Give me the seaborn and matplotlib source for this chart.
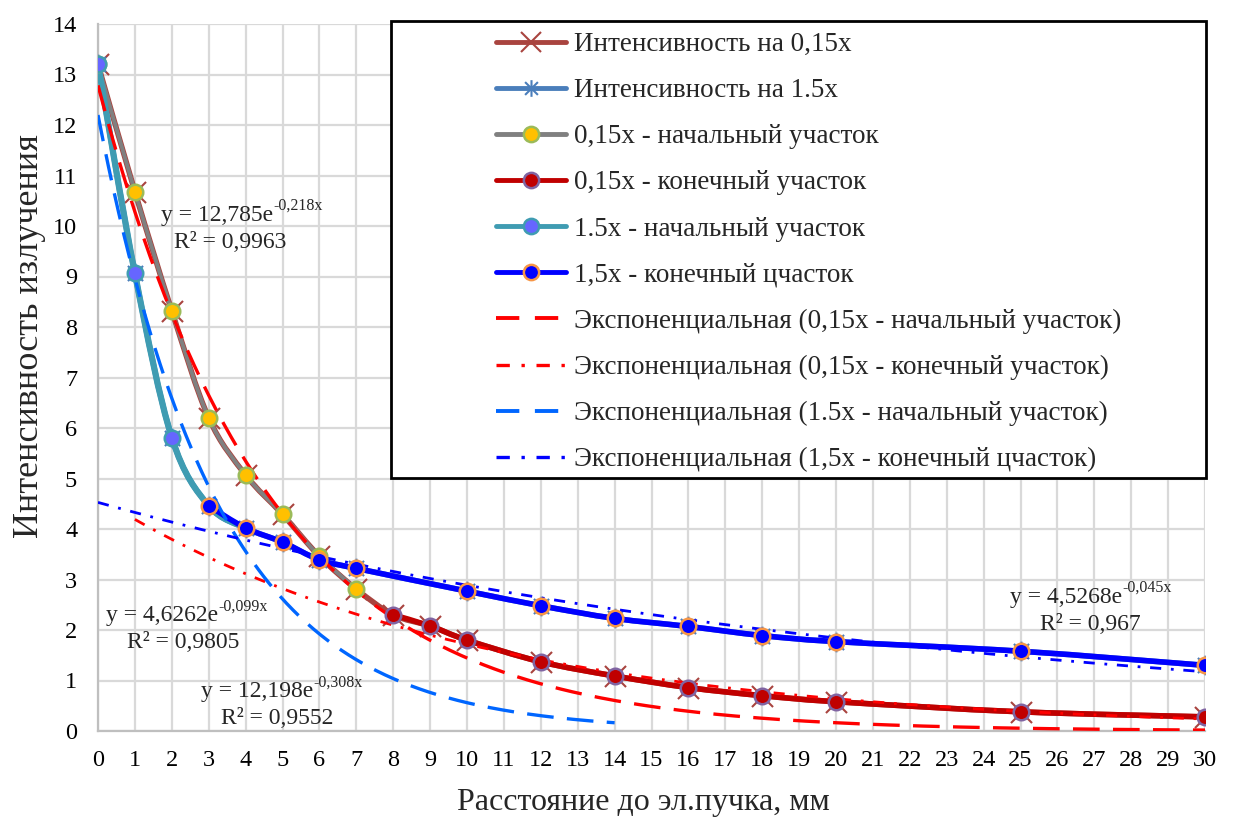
import numpy as np
import pandas as pd
import matplotlib
matplotlib.use("Agg")
import matplotlib.pyplot as plt
import seaborn as sns
from matplotlib.path import Path
from matplotlib.patches import PathPatch, Rectangle
from matplotlib.lines import Line2D

# ---------------- data ----------------
x_015 = [0, 1, 2, 3, 4, 5, 6, 7, 8, 9, 10, 12, 14, 16, 18, 20, 25, 30]
y_015 = [13.2, 10.68, 8.32, 6.2, 5.07, 4.29, 3.46, 2.81, 2.3, 2.08, 1.8, 1.37, 1.09, 0.86, 0.7, 0.58, 0.38, 0.28]

x_15 = [0, 1, 2, 3, 4, 5, 6, 7, 10, 12, 14, 16, 18, 20, 25, 30]
y_15 = [13.2, 9.06, 5.81, 4.46, 4.02, 3.74, 3.39, 3.22, 2.77, 2.48, 2.23, 2.07, 1.89, 1.77, 1.58, 1.3]

x_015_start = [0, 1, 2, 3, 4, 5, 6, 7]
y_015_start = [13.2, 10.68, 8.32, 6.2, 5.07, 4.29, 3.46, 2.81]
x_015_end = [8, 9, 10, 12, 14, 16, 18, 20, 25, 30]
y_015_end = [2.3, 2.08, 1.8, 1.37, 1.09, 0.86, 0.7, 0.58, 0.38, 0.28]

x_15_start = [0, 1, 2, 3, 4]
y_15_start = [13.2, 9.06, 5.81, 4.46, 4.02]
x_15_start_marked = [0, 1, 2]
y_15_start_marked = [13.2, 9.06, 5.81]
x_15_end = [3, 4, 5, 6, 7, 10, 12, 14, 16, 18, 20, 25, 30]
y_15_end = [4.46, 4.02, 3.74, 3.39, 3.22, 2.77, 2.48, 2.23, 2.07, 1.89, 1.77, 1.58, 1.3]

# exponential trendlines: (a, b, x_from, x_to)
trend_015_start = (12.785, -0.218, 0, 30)
trend_015_end = (4.6262, -0.099, 1, 30)
trend_15_start = (12.198, -0.308, 0, 14)
trend_15_end = (4.5268, -0.045, 0, 30)

labels = [
    "Интенсивность на 0,15x",
    "Интенсивность на 1.5x",
    "0,15x - начальный участок",
    "0,15x - конечный участок",
    "1.5x - начальный участок",
    "1,5x - конечный цчасток",
    "Экспоненциальная (0,15x - начальный участок)",
    "Экспоненциальная (0,15x - конечный участок)",
    "Экспоненциальная (1.5x - начальный участок)",
    "Экспоненциальная (1,5x - конечный цчасток)",
]

# ---------------- style ----------------
sns.set_theme(style="white")
plt.rcParams["font.family"] = "serif"
plt.rcParams["font.serif"] = ["Liberation Serif", "DejaVu Serif"]

fig = plt.figure(figsize=(12.34, 8.19), dpi=100)
ax = fig.add_axes([98 / 1234, 1 - 731 / 819, (1205 - 98) / 1234, (731 - 24) / 819])

C_015 = "#A9443F"
C_15 = "#4A7EBB"
C_015s = "#808080"
C_015e = "#C00000"
C_15s = "#3F9CB2"
C_15e = "#0000FF"
C_TR_R = "#FF0000"
C_TR_B = "#0066FF"

STAR = Path([(-1, -1), (1, 1), (-1, 1), (1, -1), (0, -1.3), (0, 1.3)],
            [Path.MOVETO, Path.LINETO, Path.MOVETO, Path.LINETO, Path.MOVETO, Path.LINETO])


def smooth_path(xs, ys):
    """Excel-like smoothed line through the points (cubic Bezier segments)."""
    p = np.column_stack([xs, ys]).astype(float)
    n = len(p)
    verts = [p[0]]
    codes = [Path.MOVETO]
    for i in range(n - 1):
        p0 = p[i - 1] if i > 0 else p[i]
        p1 = p[i]
        p2 = p[i + 1]
        p3 = p[i + 2] if i + 2 < n else p[i + 1]
        c1 = p1 + (p2 - p0) / 6.0
        c2 = p2 - (p3 - p1) / 6.0
        verts += [c1, c2, p2]
        codes += [Path.CURVE4] * 3
    return Path(verts, codes)


def draw_smooth(xs, ys, color, lw, z):
    patch = PathPatch(smooth_path(xs, ys), facecolor="none", edgecolor=color,
                      lw=lw, zorder=z, capstyle="round", joinstyle="round")
    ax.add_patch(patch)


def markers(xs, ys, marker, size, face, edge, lw, z):
    df = pd.DataFrame({"x": xs, "y": ys})
    sns.scatterplot(data=df, x="x", y="y", ax=ax, marker=marker, s=size,
                    color=face, edgecolor=edge, linewidth=lw, zorder=z, legend=False)


def trend(params, color, dashes, lw, z):
    a, b, x0, x1 = params
    xx = np.linspace(x0, x1, 300)
    df = pd.DataFrame({"x": xx, "y": a * np.exp(b * xx)})
    sns.lineplot(data=df, x="x", y="y", ax=ax, color=color, lw=lw, zorder=z,
                 estimator=None, sort=False)
    ax.lines[-1].set_dashes(dashes)


# whole series (underneath)
draw_smooth(x_015, y_015, C_015, 4.0, 2)
markers(x_015, y_015, "x", 230, C_015, C_015, 1.5, 3)
draw_smooth(x_15, y_15, C_15, 4.0, 2)
markers(x_15, y_15, STAR, 200, C_15, C_15, 1.5, 3)

# segments
draw_smooth(x_015_start, y_015_start, C_015s, 2.8, 4)
draw_smooth(x_015_end, y_015_end, C_015e, 4.0, 4)
draw_smooth(x_15_start, y_15_start, C_15s, 4.5, 4)
draw_smooth(x_15_end, y_15_end, C_15e, 4.0, 4)

# trendlines
trend(trend_015_start, C_TR_R, (8, 4), 2.4, 6)
trend(trend_015_end, C_TR_R, (4, 3.5, 1, 3.5), 2.0, 6)
trend(trend_15_start, C_TR_B, (8, 4), 2.4, 6)
trend(trend_15_end, C_15e, (4, 3.5, 1, 3.5), 2.0, 6)

markers(x_015_start, y_015_start, "o", 125, "#FFC000", "#9BBB59", 1.8, 7)
markers(x_015_end, y_015_end, "o", 125, "#C00000", "#8064A2", 1.8, 7)
markers(x_15_start_marked, y_15_start_marked, "o", 125, "#6666FF", "#3F9CB2", 1.8, 7)
markers(x_15_end, y_15_end, "o", 125, "#0000FF", "#F79646", 1.8, 8)

# ---------------- axes ----------------
ax.set_xlim(0, 30)
ax.set_ylim(0, 14)
ax.set_xticks(range(0, 31))
ax.set_yticks(range(0, 15))
ax.grid(True, color="#D9D9D9", lw=1.6, zorder=0)
ax.set_axisbelow(True)
for s in ["top", "right"]:
    ax.spines[s].set_visible(False)
for s in ["left", "bottom"]:
    ax.spines[s].set_color("#BFBFBF")
    ax.spines[s].set_linewidth(1.6)
ax.tick_params(axis="both", labelsize=17.5, length=0, colors="black")
ax.tick_params(axis="x", pad=14)
ax.tick_params(axis="y", pad=15)
ax.set_xlabel("Расстояние до эл.пучка, мм", fontsize=23)
ax.set_ylabel("Интенсивность излучения", fontsize=26)
ax.xaxis.set_label_coords((643 - 98) / 1107, -(788 - 731) / 707)
ax.yaxis.set_label_coords((46 - 98) / 1107, (731 - 336) / 707)


# equations
def put(xl, yc, a, b, r2, xr):
    base = fig.text(xl / 1234, 1 - yc / 819, "y = " + a + "e", ha="left", va="center", fontsize=17)
    ax.annotate(b, xy=(1.0, 0.55), xycoords=base, ha="left", va="bottom", fontsize=11.5)
    fig.text(xr / 1234, 1 - (yc + 27) / 819, "R² = " + r2, ha="center", va="center", fontsize=17)


put(161, 215, "12,785", "-0,218x", "0,9963", 230)
put(106, 616, "4,6262", "-0,099x", "0,9805", 183)
put(201, 692, "12,198", "-0,308x", "0,9552", 277)
put(1010, 597, "4,5268", "-0,045x", "0,967", 1090)

# legend
fig.patches.append(Rectangle((391 / 1234, 1 - 478 / 819), (1206 - 391) / 1234, (478 - 21) / 819,
                             transform=fig.transFigure, facecolor="white", edgecolor="black",
                             lw=2, zorder=10))
handles = [
    Line2D([], [], color=C_015, lw=3.5, marker="x", ms=14, mew=1.5, mec=C_015),
    Line2D([], [], color=C_15, lw=3.5, marker=STAR, ms=12, mew=1.5, mec=C_15),
    Line2D([], [], color=C_015s, lw=3.5, marker="o", ms=11, mfc="#FFC000", mec="#9BBB59", mew=1.8),
    Line2D([], [], color=C_015e, lw=3.5, marker="o", ms=11, mfc="#C00000", mec="#8064A2", mew=1.8),
    Line2D([], [], color=C_15s, lw=3.5, marker="o", ms=11, mfc="#6666FF", mec="#3F9CB2", mew=1.8),
    Line2D([], [], color=C_15e, lw=3.5, marker="o", ms=11, mfc="#0000FF", mec="#F79646", mew=1.8),
    Line2D([], [], color=C_TR_R, lw=2.8, dashes=(6, 4)),
    Line2D([], [], color=C_TR_R, lw=2.4, dashes=(4, 3.5, 1, 3.5)),
    Line2D([], [], color=C_TR_B, lw=2.8, dashes=(6, 4)),
    Line2D([], [], color=C_15e, lw=2.4, dashes=(4, 3.5, 1, 3.5)),
]
leg = fig.legend(handles, labels, loc="upper left", bbox_to_anchor=(496 / 1234, 1 - 32 / 819),
                 frameon=False, fontsize=19.5, handlelength=2.6, handletextpad=0.27,
                 labelspacing=0.78, borderpad=0, borderaxespad=0)
leg.set_zorder(11)

fig.savefig("out.png", dpi=100)
